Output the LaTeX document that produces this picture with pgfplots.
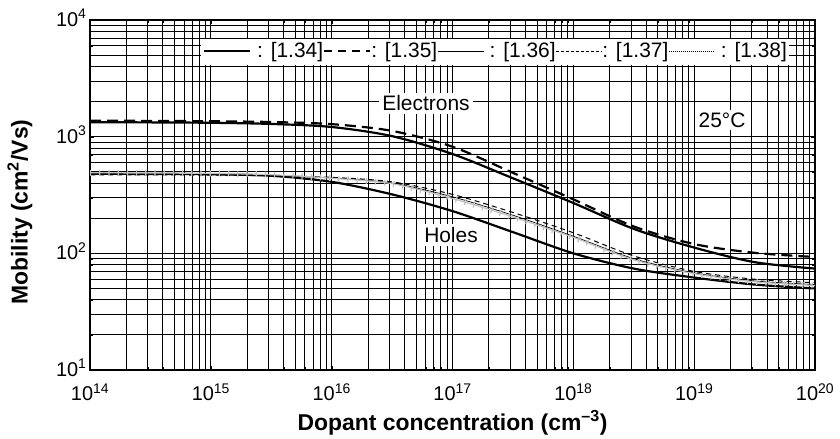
\documentclass[border=0pt]{standalone}
\usepackage{pgfplots}
\pgfplotsset{compat=1.18}
\usepackage{fontspec}
\setmainfont{Liberation Sans}
\newcommand{\samp}[1]{\tikz[baseline=-0.6ex]\draw[#1] (0,0)--(46bp,0);}
\begin{document}
\begin{tikzpicture}[x=1bp,y=1bp,font=\fontsize{21}{24}\selectfont]
\useasboundingbox (-90,-69) rectangle (750,370);
\begin{axis}[at={(0,0)}, anchor=south west, scale only axis,
  width=725bp, height=350bp,
  xmode=log, ymode=log, log basis x=10, log basis y=10,
  xmin=1e14, xmax=1e20, ymin=10, ymax=1e4,
  grid=both,
  major grid style={black, line width=0.9pt},
  minor grid style={black, line width=0.9pt},
  axis line style={black, line width=1.3pt},
  tick style={black},
  xtick={1e14,1e15,1e16,1e17,1e18,1e19,1e20},
  minor xtick={2e14,3e14,4e14,5e14,6e14,7e14,8e14,9e14,
    2e15,3e15,4e15,5e15,6e15,7e15,8e15,9e15,
    2e16,3e16,4e16,5e16,6e16,7e16,8e16,9e16,
    2e17,3e17,4e17,5e17,6e17,7e17,8e17,9e17,
    2e18,3e18,4e18,5e18,6e18,7e18,8e18,9e18,
    2e19,3e19,4e19,5e19,6e19,7e19,8e19,9e19},
  xticklabels={10\textsuperscript{14},10\textsuperscript{15},10\textsuperscript{16},10\textsuperscript{17},10\textsuperscript{18},10\textsuperscript{19},10\textsuperscript{20}},
  ytick={10,100,1000,10000},
  minor ytick={20,30,40,50,60,70,80,90,200,300,400,500,600,700,800,900,2000,3000,4000,5000,6000,7000,8000,9000},
  yticklabels={10\textsuperscript{1},10\textsuperscript{2},10\textsuperscript{3},10\textsuperscript{4}},
  ticklabel style={font=\fontsize{20}{23}\selectfont},
  xticklabel style={yshift=-10bp},
  yticklabel style={yshift=2bp},
  xlabel={Dopant concentration (cm\textsuperscript{\textendash3})},
  ylabel={Mobility (cm\textsuperscript{2}/Vs)},
  label style={font=\fontsize{23}{27}\selectfont\bfseries},
  xlabel style={at={(axis description cs:0.5,-0.152)}, anchor=center},
  ylabel style={at={(axis description cs:-0.0966,0.451)}, anchor=center},
]
% Electrons [1.34]
\addplot[black, line width=2.2pt, smooth] coordinates {
(1e14,1330) (3.16e14,1325) (1e15,1315) (3.16e15,1285) (1e16,1210) (3.16e16,1010) (1e17,710) (3.16e17,440) (1e18,270) (3.16e18,162) (1e19,112) (3.16e19,84) (1e20,74)};
% Electrons [1.35]
\addplot[black, line width=2.2pt, smooth, dash pattern=on 11bp off 6bp] coordinates {
(1e14,1370) (3.16e14,1365) (1e15,1355) (3.16e15,1335) (1e16,1280) (3.16e16,1120) (1e17,820) (3.16e17,490) (1e18,290) (3.16e18,170) (1e19,120) (3.16e19,101) (1e20,93)};
% Holes [1.34]
\addplot[black, line width=2.2pt, smooth] coordinates {
(1e14,480) (3.16e14,479) (1e15,476) (3.16e15,462) (1e16,410) (3.16e16,320) (1e17,230) (3.16e17,152) (1e18,100) (3.16e18,74) (1e19,62) (3.16e19,54) (1e20,50)};
% Holes [1.36]
\addplot[black, line width=0.7pt, smooth] coordinates {
(1e14,475) (3.16e14,474) (1e15,472) (3.16e15,464) (1e16,442) (3.16e16,400) (1e17,305) (3.16e17,212) (1e18,140) (3.16e18,90) (1e19,68) (3.16e19,58) (1e20,54)};
% Holes [1.37]
\addplot[black, line width=1pt, smooth, dash pattern=on 5bp off 4bp] coordinates {
(1e14,470) (3.16e14,470) (1e15,468) (3.16e15,462) (1e16,448) (3.16e16,410) (1e17,320) (3.16e17,224) (1e18,150) (3.16e18,95) (1e19,70) (3.16e19,60) (1e20,56)};
% Holes [1.38] (line + cross ticks)
\addplot[gray!50, line width=1.2pt, smooth] coordinates {
(1e14,490) (3.16e14,488) (1e15,484) (3.16e15,472) (1e16,440) (3.16e16,395) (1e17,295) (3.16e17,205) (1e18,137) (3.16e18,88) (1e19,67) (3.16e19,57) (1e20,53)};
\addplot[gray!50, line width=6pt, smooth, dash pattern=on 1.2bp off 8bp, forget plot] coordinates {
(1e14,490) (3.16e14,488) (1e15,484) (3.16e15,472) (1e16,440) (3.16e16,395) (1e17,295) (3.16e17,205) (1e18,137) (3.16e18,88) (1e19,67) (3.16e19,57) (1e20,53)};
\end{axis}
\node[fill=white, inner xsep=2bp, inner ysep=0pt, minimum height=26bp, anchor=west] at (111,317.5)
 {\samp{line width=2.2pt}\ : [1.34]\samp{line width=2.2pt, dash pattern=on 8bp off 6bp}: [1.35]\samp{line width=0.7pt}\ : [1.36]\samp{line width=0.8pt, dash pattern=on 3bp off 2bp}: [1.37]\samp{line width=0.8pt, dash pattern=on 0.8bp off 1.2bp}\ : [1.38]};
\node[fill=white, inner sep=3bp] at (336,266.5) {Electrons};
\node[fill=white, inner sep=3bp] at (361,135) {Holes};
\node[fill=white, inner sep=3bp] at (632,250) {25°C};
\end{tikzpicture}
\end{document}
